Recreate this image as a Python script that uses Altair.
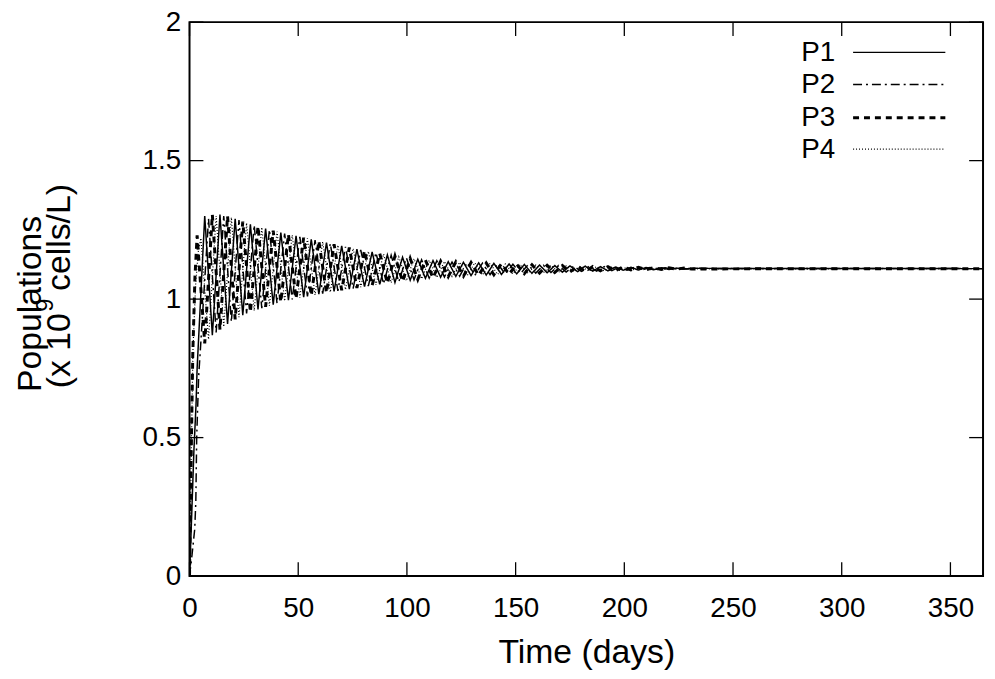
import altair as alt
import pandas as pd

SERIES = ["P1", "P2", "P3", "P4"]
X_TICKS = [0, 50, 100, 150, 200, 250, 300, 350]
Y_TICKS = [0, 0.5, 1, 1.5, 2]
X_DOMAIN = [0, 365]
Y_DOMAIN = [0, 2]

# times of the turning points
GRID_A = [3.5, 7, 10.5, 14, 17.5, 21, 24.5, 28, 31.5, 35, 38.5, 42, 45.5, 49, 52.5, 56,
          59.5, 63, 66.5, 70, 73.5, 77, 80.5, 84, 87.5, 91, 94.5, 98, 101.5, 105, 108.5,
          112, 115.5, 119, 122.5, 126, 129.5, 133, 136.5, 140, 143.5, 147, 150.5, 154,
          157.5, 161, 164.5, 168, 171.5, 175, 178.5, 182, 185.5, 189, 192.5, 196, 199.5,
          203, 206.5, 210, 213.5, 217, 220.5, 224, 227.5, 231]
GRID_B = [5.25, 8.75, 12.25, 15.75, 19.25, 22.75, 26.25, 29.75, 33.25, 36.75, 40.25, 43.75,
          47.25, 50.75, 54.25, 57.75, 61.25, 64.75, 68.25, 71.75, 75.25, 78.75, 82.25, 85.75,
          89.25, 92.75, 96.25, 99.75, 103.25, 106.75, 110.25, 113.75, 117.25, 120.75, 124.25,
          127.75, 131.25, 134.75, 138.25, 141.75, 145.25, 148.75, 152.25, 155.75, 159.25,
          162.75, 166.25, 169.75, 173.25, 176.75, 180.25, 183.75, 187.25, 190.75, 194.25,
          197.75, 201.25, 204.75, 208.25, 211.75, 215.25, 218.75, 222.25, 225.75, 229.25,
          232.75]

P1_EARLY_DAYS = [0, 1, 2, 3]
P1_EARLY_VALS = [0, 0.22, 0.45, 0.62]
P1_VALS = [0.75, 1.30, 0.87, 1.305, 0.91, 1.29, 0.942, 1.27, 0.963, 1.255, 0.98, 1.24, 0.996,
           1.228, 1.007, 1.216, 1.018, 1.204, 1.028, 1.192, 1.036, 1.18, 1.045, 1.17, 1.053,
           1.16, 1.06, 1.151, 1.068, 1.144, 1.075, 1.139, 1.079, 1.135, 1.082, 1.133, 1.085,
           1.131, 1.087, 1.129, 1.089, 1.127, 1.091, 1.125, 1.093, 1.123, 1.095, 1.121, 1.097,
           1.12, 1.099, 1.119, 1.101, 1.117, 1.102, 1.116, 1.104, 1.115, 1.105, 1.114, 1.106,
           1.113, 1.107, 1.112, 1.108, 1.111]

P2_EARLY_DAYS = [0, 1.2, 2.4, 2.9, 3.3, 4.2]
P2_EARLY_VALS = [0, 0.08, 0.17, 0.27, 0.5, 0.72]
P2_VALS = [0.85, 1.29, 0.88, 1.30, 0.918, 1.285, 0.948, 1.267, 0.967, 1.251, 0.985, 1.237,
           0.999, 1.225, 1.01, 1.213, 1.02, 1.201, 1.03, 1.189, 1.038, 1.178, 1.047, 1.168,
           1.055, 1.158, 1.062, 1.149, 1.07, 1.142, 1.076, 1.138, 1.08, 1.134, 1.083, 1.132,
           1.086, 1.13, 1.088, 1.128, 1.09, 1.126, 1.092, 1.124, 1.094, 1.122, 1.096, 1.121,
           1.098, 1.119, 1.1, 1.118, 1.101, 1.117, 1.103, 1.116, 1.104, 1.115, 1.106, 1.114,
           1.107, 1.113, 1.108, 1.112, 1.109, 1.111]

P3_EARLY_DAYS = [0, 0.6, 1.5, 2.5]
P3_EARLY_VALS = [0, 0.35, 0.8, 1.08]
P3_VALS = [1.23, 0.84, 1.305, 0.89, 1.30, 0.927, 1.28, 0.953, 1.263, 0.972, 1.247, 0.99, 1.234,
           1.002, 1.222, 1.013, 1.21, 1.023, 1.198, 1.032, 1.186, 1.04, 1.175, 1.049, 1.165,
           1.057, 1.155, 1.064, 1.147, 1.071, 1.141, 1.077, 1.137, 1.081, 1.134, 1.083, 1.132,
           1.086, 1.13, 1.088, 1.128, 1.09, 1.126, 1.092, 1.124, 1.094, 1.122, 1.096, 1.121,
           1.098, 1.119, 1.1, 1.118, 1.102, 1.117, 1.103, 1.116, 1.105, 1.115, 1.106, 1.114,
           1.107, 1.113, 1.108, 1.112, 1.109]

P4_EARLY_DAYS = [0, 0.8, 1.6, 2.8, 4.0]
P4_EARLY_VALS = [0, 0.45, 0.82, 1.05, 1.17]
P4_VALS = [1.22, 0.855, 1.30, 0.9, 1.295, 0.935, 1.275, 0.958, 1.259, 0.976, 1.244, 0.993,
           1.231, 1.005, 1.219, 1.015, 1.207, 1.025, 1.195, 1.034, 1.183, 1.043, 1.173, 1.051,
           1.163, 1.059, 1.153, 1.066, 1.146, 1.073, 1.14, 1.078, 1.136, 1.082, 1.133, 1.085,
           1.131, 1.087, 1.129, 1.089, 1.127, 1.091, 1.125, 1.093, 1.123, 1.095, 1.122, 1.097,
           1.12, 1.099, 1.118, 1.101, 1.117, 1.102, 1.116, 1.104, 1.115, 1.105, 1.114, 1.106,
           1.113, 1.107, 1.112, 1.108, 1.111, 1.109]

END_DAY = 365
END_VAL = 1.11

SERIES_DATA = {
    "P1": (P1_EARLY_DAYS + GRID_A + [END_DAY], P1_EARLY_VALS + P1_VALS + [END_VAL]),
    "P2": (P2_EARLY_DAYS + GRID_B + [END_DAY], P2_EARLY_VALS + P2_VALS + [END_VAL]),
    "P3": (P3_EARLY_DAYS + GRID_A + [END_DAY], P3_EARLY_VALS + P3_VALS + [END_VAL]),
    "P4": (P4_EARLY_DAYS + GRID_B + [END_DAY], P4_EARLY_VALS + P4_VALS + [END_VAL]),
}
for k, (d, v) in SERIES_DATA.items():
    assert len(d) == len(v), (k, len(d), len(v))

DASH = {"P1": [1, 0], "P2": [9, 4, 2, 4], "P3": [6, 5], "P4": [1, 2]}
WIDTH = {"P1": 1.5, "P2": 1.5, "P3": 3, "P4": 1.2}

W, H = 800, 558.5
TICK = 14
FONT = "Liberation Sans"
FS = 28        # tick labels and legend
TFS = 34       # axis titles

xscale = alt.Scale(domain=X_DOMAIN, nice=False, zero=False)
yscale = alt.Scale(domain=Y_DOMAIN, nice=False)
x_axis = alt.Axis(values=X_TICKS, ticks=False, domain=False, grid=False,
                  labelFontSize=FS, labelPadding=19, labelFlush=False,
                  labelOverlap=False, labelColor="black", title="Time (days)",
                  titleFontSize=TFS, titleFontWeight="normal", titlePadding=13,
                  titleColor="black")
y_axis = alt.Axis(values=Y_TICKS, format=".1~f", ticks=False, domain=False,
                  grid=False, labelFontSize=FS, labelPadding=9,
                  labelFlush=False, labelOverlap=False, labelColor="black",
                  title=None)

layers = []
for s in SERIES:
    d, v = SERIES_DATA[s]
    df = pd.DataFrame({"day": d, "value": v, "series": s})
    layers.append(
        alt.Chart(df).mark_line(color="black", strokeWidth=WIDTH[s], strokeDash=DASH[s],
                                clip=True, interpolate="linear")
        .encode(x=alt.X("day:Q", scale=xscale, axis=x_axis),
                y=alt.Y("value:Q", scale=yscale, axis=y_axis),
                order="day:Q")
    )

xt = pd.DataFrame({"day": X_TICKS})
yt = pd.DataFrame({"value": Y_TICKS})
tick_style = dict(color="black", strokeWidth=1.3)
xe = alt.X("day:Q", scale=xscale, axis=x_axis)
ye = alt.Y("value:Q", scale=yscale, axis=y_axis)
layers += [
    alt.Chart(xt).mark_rule(**tick_style).encode(x=xe, y=alt.value(H), y2=alt.value(H - TICK)),
    alt.Chart(xt).mark_rule(**tick_style).encode(x=xe, y=alt.value(0), y2=alt.value(TICK)),
    alt.Chart(yt).mark_rule(**tick_style).encode(y=ye, x=alt.value(0), x2=alt.value(TICK)),
    alt.Chart(yt).mark_rule(**tick_style).encode(y=ye, x=alt.value(W), x2=alt.value(W - TICK)),
]

# legend (top right, inside the frame)
LEG_Y = [31, 63.5, 97, 128.5]
for s, ly in zip(SERIES, LEG_Y):
    ldf = pd.DataFrame({"name": [s]})
    layers.append(alt.Chart(ldf).mark_text(align="right", baseline="middle", fontSize=FS,
                                           font=FONT, color="black")
                  .encode(text="name:N", x=alt.value(651), y=alt.value(ly)))
    layers.append(alt.Chart(ldf).mark_rule(color="black", strokeWidth=WIDTH[s],
                                           strokeDash=DASH[s])
                  .encode(x=alt.value(669), x2=alt.value(762), y=alt.value(ly - 0.5)))

# y-axis title (two lines, with a superscript), read bottom to top
YT1 = ["Populations"]
YT2A = ["(x 10"]
YT2S = ["9"]
YT2B = ["cells/L)"]
layers += [
    alt.Chart(pd.DataFrame({"t": YT1})).mark_text(angle=270, align="left", baseline="middle",
                                                  fontSize=TFS, font=FONT, color="black")
    .encode(text="t:N", x=alt.value(-160), y=alt.value(373)),
    alt.Chart(pd.DataFrame({"t": YT2A})).mark_text(angle=270, align="left", baseline="middle",
                                                   fontSize=TFS, font=FONT, color="black")
    .encode(text="t:N", x=alt.value(-130), y=alt.value(369)),
    alt.Chart(pd.DataFrame({"t": YT2S})).mark_text(angle=270, align="left", baseline="middle",
                                                   fontSize=24, font=FONT, color="black")
    .encode(text="t:N", x=alt.value(-145), y=alt.value(292)),
    alt.Chart(pd.DataFrame({"t": YT2B})).mark_text(angle=270, align="left", baseline="middle",
                                                   fontSize=TFS, font=FONT, color="black")
    .encode(text="t:N", x=alt.value(-130), y=alt.value(271)),
]

chart = alt.layer(*layers).properties(
    width=W, height=H,
    padding={"left": 183, "top": 11.5, "right": 4, "bottom": 100},
    autosize=alt.AutoSizeParams(type="none"),
).configure(
    background="white",
    view=alt.ViewConfig(stroke="black", strokeWidth=2),
    axis=alt.AxisConfig(labelFont=FONT, titleFont=FONT),
)

chart.save("out.html", embed_options={"renderer": "svg", "actions": False})
